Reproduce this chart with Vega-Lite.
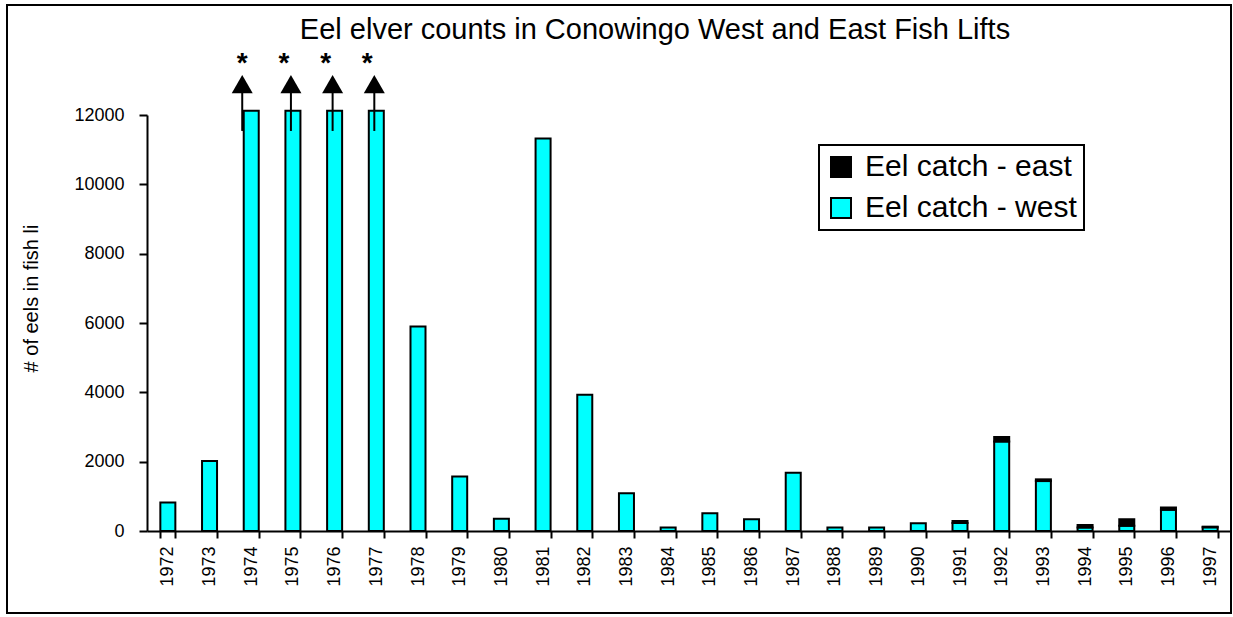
{
  "$schema": "https://vega.github.io/schema/vega-lite/v6.json",
  "width": 1224,
  "height": 608,
  "autosize": {"type": "none"},
  "padding": {"left": 7, "top": 5, "right": 2, "bottom": 4},
  "background": "white",
  "title": {
    "text": "Eel elver counts in Conowingo West and East Fish Lifts",
    "anchor": "middle",
    "frame": "group",
    "offset": 0,
    "baseline": "alphabetic",
    "dx": 36,
    "dy": 63,
    "font": "Liberation Sans",
    "fontSize": 29,
    "fontWeight": "normal",
    "color": "black"
  },
  "config": {
    "view": {"stroke": "black", "strokeWidth": 2},
    "font": "Liberation Sans",
    "axis": {
      "domainColor": "black",
      "domainWidth": 2,
      "tickColor": "black",
      "tickWidth": 2,
      "labelColor": "black",
      "labelFont": "Liberation Sans",
      "titleFont": "Liberation Sans",
      "titleColor": "black",
      "titleFontWeight": "normal",
      "grid": false
    },
    "legend": {"strokeWidth": 2}
  },
  "datasets": {
    "catch": [
      {"year": "1972", "series": "Eel catch - west", "count": 820},
      {"year": "1973", "series": "Eel catch - west", "count": 2020},
      {"year": "1974", "series": "Eel catch - west", "count": 12120},
      {"year": "1975", "series": "Eel catch - west", "count": 12120},
      {"year": "1976", "series": "Eel catch - west", "count": 12120},
      {"year": "1977", "series": "Eel catch - west", "count": 12120},
      {"year": "1978", "series": "Eel catch - west", "count": 5900},
      {"year": "1979", "series": "Eel catch - west", "count": 1570},
      {"year": "1980", "series": "Eel catch - west", "count": 350},
      {"year": "1981", "series": "Eel catch - west", "count": 11320},
      {"year": "1982", "series": "Eel catch - west", "count": 3930},
      {"year": "1983", "series": "Eel catch - west", "count": 1090},
      {"year": "1984", "series": "Eel catch - west", "count": 100},
      {"year": "1985", "series": "Eel catch - west", "count": 510},
      {"year": "1986", "series": "Eel catch - west", "count": 340},
      {"year": "1987", "series": "Eel catch - west", "count": 1680},
      {"year": "1988", "series": "Eel catch - west", "count": 100},
      {"year": "1989", "series": "Eel catch - west", "count": 100},
      {"year": "1990", "series": "Eel catch - west", "count": 220},
      {"year": "1991", "series": "Eel catch - west", "count": 230},
      {"year": "1992", "series": "Eel catch - west", "count": 2580},
      {"year": "1993", "series": "Eel catch - west", "count": 1440},
      {"year": "1994", "series": "Eel catch - west", "count": 100},
      {"year": "1995", "series": "Eel catch - west", "count": 150},
      {"year": "1996", "series": "Eel catch - west", "count": 610},
      {"year": "1997", "series": "Eel catch - west", "count": 105},
      {"year": "1991", "series": "Eel catch - east", "count": 60},
      {"year": "1992", "series": "Eel catch - east", "count": 130},
      {"year": "1993", "series": "Eel catch - east", "count": 50},
      {"year": "1994", "series": "Eel catch - east", "count": 70},
      {"year": "1995", "series": "Eel catch - east", "count": 190},
      {"year": "1996", "series": "Eel catch - east", "count": 70},
      {"year": "1997", "series": "Eel catch - east", "count": 20}
    ],
    "notes": [
      {"year": "1974", "lo": 11540, "hi": 12640, "tip": 12890, "star": 13250, "note": "*"},
      {"year": "1975", "lo": 11540, "hi": 12640, "tip": 12890, "star": 13250, "note": "*"},
      {"year": "1976", "lo": 11540, "hi": 12640, "tip": 12890, "star": 13250, "note": "*"},
      {"year": "1977", "lo": 11540, "hi": 12640, "tip": 12890, "star": 13250, "note": "*"}
    ]
  },
  "layer": [
    {
      "data": {"name": "catch"},
      "mark": {"type": "bar", "stroke": "black", "strokeWidth": 2},
      "encoding": {
        "x": {
          "field": "year",
          "type": "ordinal",
          "scale": {"range": [140, 1224], "paddingInner": 0.64, "paddingOuter": 0.32},
          "axis": {
            "title": null,
            "labelAngle": -90,
            "labelAlign": "right",
            "labelBaseline": "middle",
            "labelFontSize": 18,
            "labelPadding": 8,
            "tickSize": 7,
            "tickBand": "extent",
            "offset": -82
          }
        },
        "y": {
          "field": "count",
          "type": "quantitative",
          "stack": "zero",
          "scale": {"domain": [0, 12000], "range": [526, 110], "nice": false},
          "axis": {
            "title": "# of eels in fish li",
            "values": [0, 2000, 4000, 6000, 8000, 10000, 12000],
            "format": "d",
            "labelFontSize": 18,
            "labelPadding": 15,
            "tickSize": 8,
            "offset": -140,
            "titleFontSize": 20,
            "titleX": -110,
            "titleY": 293,
            "titleAlign": "center",
            "titleBaseline": "alphabetic",
            "titleAngle": 270
          }
        },
        "color": {
          "field": "series",
          "type": "nominal",
          "scale": {"domain": ["Eel catch - east", "Eel catch - west"], "range": ["#000000", "#00FFFF"]},
          "legend": {
            "title": null,
            "orient": "none",
            "legendX": 812,
            "legendY": 140,
            "direction": "vertical",
            "strokeColor": "black",
            "fillColor": "white",
            "padding": 7,
            "symbolType": "square",
            "symbolSize": 400,
            "symbolStrokeColor": "black",
            "symbolStrokeWidth": 2,
            "symbolOpacity": 1,
            "labelFont": "Liberation Sans",
            "labelFontSize": 30,
            "labelColor": "black",
            "labelOffset": 9,
            "labelLimit": 400,
            "rowPadding": 11
          }
        },
        "order": {"field": "series", "sort": "descending"}
      }
    },
    {
      "data": {"name": "notes"},
      "transform": [{"filter": "datum.year == '1974'"}],
      "mark": {"type": "rule", "color": "black", "strokeWidth": 2, "xOffset": -9},
      "encoding": {
        "x": {"field": "year", "type": "ordinal", "title": null},
        "y": {"field": "lo", "type": "quantitative", "title": "# of eels in fish li"},
        "y2": {"field": "hi"}
      }
    },
    {
      "data": {"name": "notes"},
      "transform": [{"filter": "datum.year != '1974'"}],
      "mark": {"type": "rule", "color": "black", "strokeWidth": 2, "xOffset": -2},
      "encoding": {
        "x": {"field": "year", "type": "ordinal", "title": null},
        "y": {"field": "lo", "type": "quantitative", "title": "# of eels in fish li"},
        "y2": {"field": "hi"}
      }
    },
    {
      "data": {"name": "notes"},
      "transform": [{"filter": "datum.year == '1974'"}],
      "mark": {"type": "point", "shape": "triangle-up", "size": 441, "filled": true, "color": "black", "opacity": 1, "xOffset": -9},
      "encoding": {
        "x": {"field": "year", "type": "ordinal", "title": null},
        "y": {"field": "tip", "type": "quantitative", "title": "# of eels in fish li"}
      }
    },
    {
      "data": {"name": "notes"},
      "transform": [{"filter": "datum.year != '1974'"}],
      "mark": {"type": "point", "shape": "triangle-up", "size": 441, "filled": true, "color": "black", "opacity": 1, "xOffset": -2},
      "encoding": {
        "x": {"field": "year", "type": "ordinal", "title": null},
        "y": {"field": "tip", "type": "quantitative", "title": "# of eels in fish li"}
      }
    },
    {
      "data": {"name": "notes"},
      "mark": {"type": "text", "font": "Liberation Sans", "fontSize": 28, "fontWeight": "bold", "baseline": "alphabetic", "color": "black", "xOffset": -9},
      "encoding": {
        "x": {"field": "year", "type": "ordinal", "title": null},
        "y": {"field": "star", "type": "quantitative", "title": "# of eels in fish li"},
        "text": {"field": "note"}
      }
    }
  ]
}
